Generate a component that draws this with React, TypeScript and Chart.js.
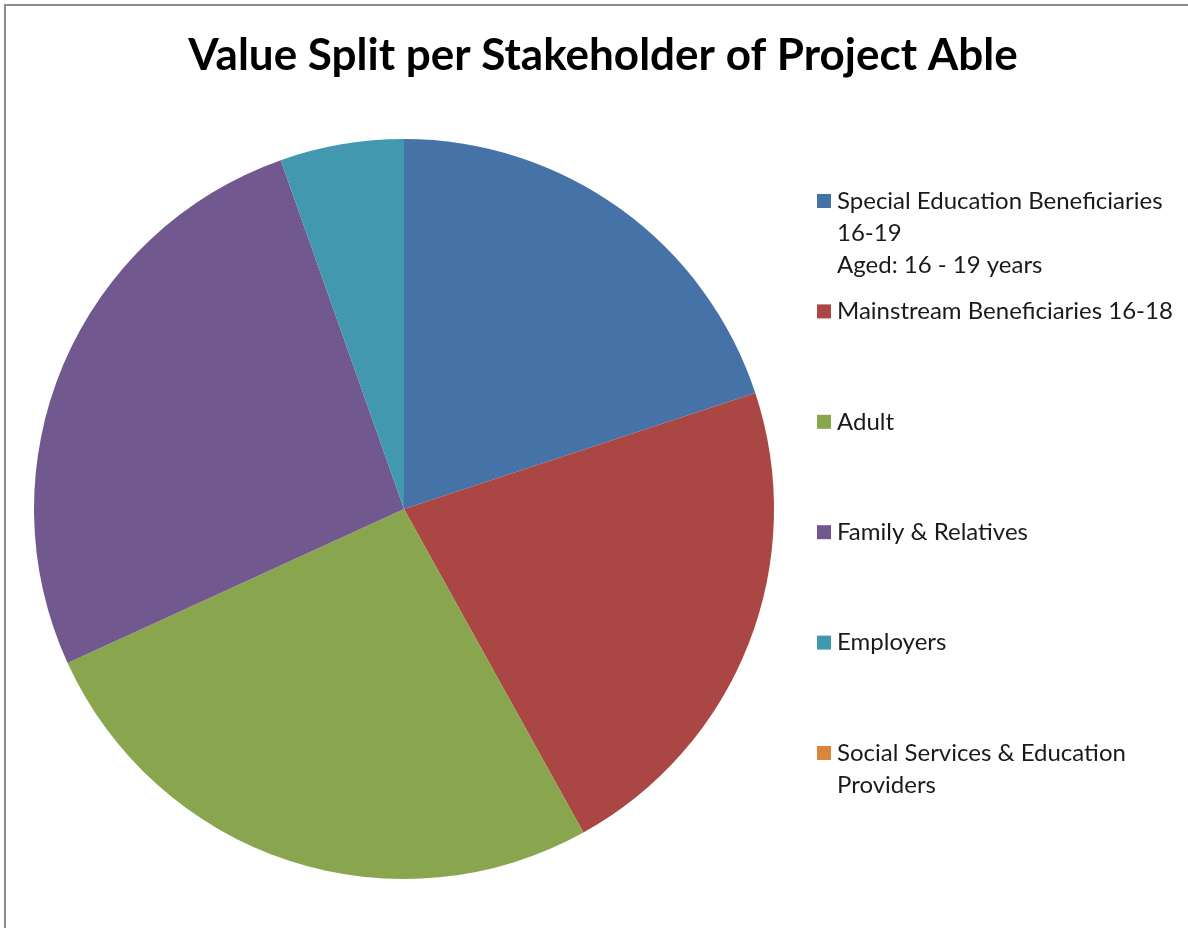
import React, { useEffect, useRef } from "react";
import { Chart, registerables } from "chart.js";

Chart.register(...registerables);

const titleText = "Value Split per Stakeholder of Project Able";
const categories: string[][] = [
  ["Special Education Beneficiaries", "16-19", "Aged: 16 - 19 years"],
  ["Mainstream Beneficiaries 16-18"],
  ["Adult"],
  ["Family & Relatives"],
  ["Employers"],
  ["Social Services & Education", "Providers"],
];
const values = [19.9, 22.0, 26.2, 26.4, 5.4, 0];
const colors = ["#4572A7", "#AA4643", "#89A54E", "#71588F", "#4198AF", "#DB843D"];

const FONT = "Lato, 'Noto Sans', sans-serif";

const customDraw = {
  id: "customDraw",
  afterDraw(chart: any) {
    const ctx = chart.ctx as CanvasRenderingContext2D;
    ctx.save();
    // title
    ctx.fillStyle = "#000";
    ctx.font = `bold 44px ${FONT}`;
    ctx.textAlign = "center";
    ctx.textBaseline = "middle";
    ctx.fillText(titleText, 603, 56);
    // legend
    const labels = chart.data.labels as string[][];
    const bg = chart.data.datasets[0].backgroundColor as string[];
    ctx.font = `24px ${FONT}`;
    ctx.textAlign = "left";
    labels.forEach((lines, i) => {
      const y0 = 201 + i * 110.4;
      ctx.fillStyle = bg[i];
      ctx.fillRect(817, y0 - 7, 14, 14);
      ctx.fillStyle = "#1a1a1a";
      lines.forEach((ln, j) => {
        ctx.fillText(ln, 837, y0 + j * 32);
      });
    });
    ctx.restore();
  },
};

export default function App() {
  const ref = useRef<HTMLCanvasElement | null>(null);
  useEffect(() => {
    if (!ref.current) return;
    const chart = new Chart(ref.current, {
      type: "pie",
      data: {
        labels: categories,
        datasets: [
          {
            data: values,
            backgroundColor: colors,
            borderWidth: 0,
          },
        ],
      },
      options: {
        animation: false,
        responsive: false,
        maintainAspectRatio: false,
        layout: { padding: { left: 34, right: 414, top: 139, bottom: 49 } },
        plugins: {
          legend: { display: false },
          title: { display: false },
          tooltip: { enabled: false },
        },
      },
      plugins: [customDraw],
    });
    return () => chart.destroy();
  }, []);
  return (
    <div
      style={{
        position: "fixed",
        left: 0,
        top: 0,
        width: 1188,
        height: 928,
        background: "#fff",
        overflow: "hidden",
      }}
    >
      <div
        style={{
          position: "absolute",
          left: 4,
          top: 4,
          width: 1200,
          height: 940,
          borderLeft: "2px solid #8c8c8c",
          borderTop: "2px solid #8c8c8c",
        }}
      />
      <canvas ref={ref} width={1188} height={928} style={{ position: "absolute", left: 0, top: 0 }} />
    </div>
  );
}
